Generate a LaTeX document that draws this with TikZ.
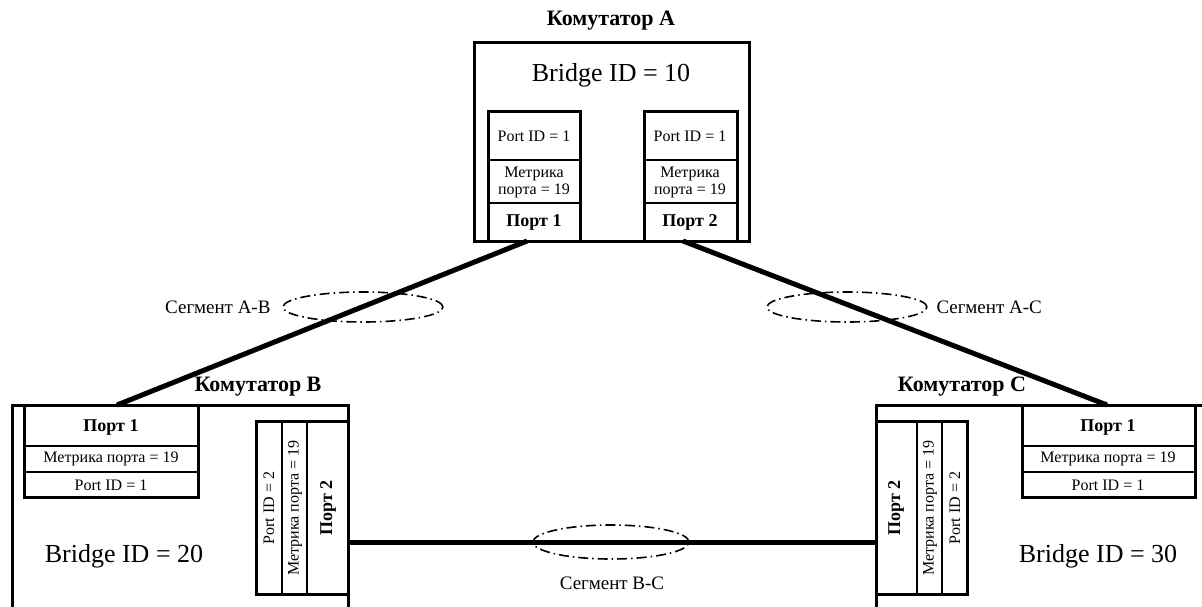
\documentclass[tikz,border=0pt]{standalone}
\usepackage{fontspec}
\setmainfont{Liberation Serif}
\begin{document}
\begin{tikzpicture}[x=1pt,y=-1pt,line join=miter,
  big/.style={font=\fontsize{26}{28}\selectfont},
  title/.style={font=\fontsize{22}{24}\selectfont\bfseries},
  cell/.style={font=\fontsize{16}{17}\selectfont,align=center},
  portname/.style={font=\fontsize{18}{20}\selectfont\bfseries},
  seg/.style={font=\fontsize{19}{21}\selectfont},
  frame/.style={line width=3pt},
  sep/.style={line width=1.5pt},
  link/.style={line width=5pt},
  ring/.style={line width=1.6pt,dash pattern=on 10pt off 4pt on 1.5pt off 4pt}]
  \useasboundingbox (0,0) rectangle (1202,606);
  \clip (0,0) rectangle (1202,606);

  % Komutator A
  \draw[frame] (474,42) rectangle (749,241);
  \node[title] (tA) at (611,21) {Комутатор А};
  \node[big] (bA) at (611,75) {Bridge ID = 10};
  \draw[frame] (488,241) -- (488,111) -- (580,111) -- (580,241);
  \draw[sep] (488,160) -- (580,160) (488,203) -- (580,203);
  \node[cell] (idA1) at (534,136) {Port ID = 1};
  \node[cell] (mA1) at (534,182) {Метрика\\порта = 19};
  \node[portname] (pA1) at (534,222) {Порт 1};
  \draw[frame] (644,241) -- (644,111) -- (737,111) -- (737,241);
  \draw[sep] (644,160) -- (737,160) (644,203) -- (737,203);
  \node[cell] (idA2) at (690,136) {Port ID = 1};
  \node[cell] (mA2) at (690,182) {Метрика\\порта = 19};
  \node[portname] (pA2) at (690,222) {Порт 2};

  % Komutator B
  \draw[frame] (12,620) -- (12,405) -- (348,405) -- (348,620);
  \node[title] (tB) at (258,387) {Комутатор B};
  \node[big] (bB) at (124,556) {Bridge ID = 20};
  \draw[frame] (24,405) rectangle (198,497);
  \draw[sep] (24,446) -- (198,446) (24,472) -- (198,472);
  \node[portname] (pB1) at (111,427) {Порт 1};
  \node[cell] (mB1) at (111,459) {Метрика порта = 19};
  \node[cell] (idB1) at (111,485) {Port ID = 1};
  \draw[frame] (256,421) rectangle (348,594);
  \draw[sep] (282,421) -- (282,594) (307,421) -- (307,594);
  \node[cell,rotate=90] (idB2) at (269,508) {Port ID = 2};
  \node[cell,rotate=90] (mB2) at (295,508) {Метрика порта = 19};
  \node[portname,rotate=90] (pB2) at (328,508) {Порт 2};

  % Komutator C
  \draw[frame] (876,620) -- (876,405) -- (1210,405);
  \node[title] (tC) at (962,387) {Комутатор C};
  \node[big] (bC) at (1098,556) {Bridge ID = 30};
  \draw[frame] (1022,405) rectangle (1195,497);
  \draw[sep] (1022,446) -- (1195,446) (1022,472) -- (1195,472);
  \node[portname] (pC1) at (1108,427) {Порт 1};
  \node[cell] (mC1) at (1108,459) {Метрика порта = 19};
  \node[cell] (idC1) at (1108,485) {Port ID = 1};
  \draw[frame] (876,421) rectangle (967,594);
  \draw[sep] (917,421) -- (917,594) (942,421) -- (942,594);
  \node[portname,rotate=90] (pC2) at (896,508) {Порт 2};
  \node[cell,rotate=90] (mC2) at (930,508) {Метрика порта = 19};
  \node[cell,rotate=90] (idC2) at (955,508) {Port ID = 2};

  % links
  \coordinate (A1) at (527,241);
  \coordinate (A2) at (683,241);
  \coordinate (B1) at (117,405);
  \coordinate (C1) at (1107,405);
  \coordinate (B2) at (348,542);
  \coordinate (C2) at (876,542);
  \draw[link] (A1) -- (B1);
  \draw[link] (A2) -- (C1);
  \draw[link] (B2) -- (C2);

  % segments
  \draw[ring] (363,307) ellipse [x radius=80pt,y radius=15pt];
  \node[seg,anchor=east] (sAB) at (274,307) {Сегмент А-В};
  \draw[ring] (847,307) ellipse [x radius=80pt,y radius=15pt];
  \node[seg,anchor=west] (sAC) at (933,307) {Сегмент А-С};
  \draw[ring] (611,542) ellipse [x radius=78pt,y radius=17pt];
  \node[seg] (sBC) at (612,583) {Сегмент В-С};
\end{tikzpicture}
\end{document}
